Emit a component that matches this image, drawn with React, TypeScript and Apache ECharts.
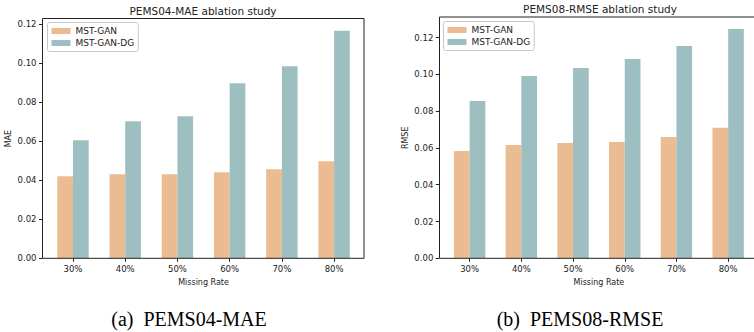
import React, { useEffect, useRef } from 'react';
import * as echarts from 'echarts';

const categories = ['30%', '40%', '50%', '60%', '70%', '80%'];
const seriesNames = ['MST-GAN', 'MST-GAN-DG'];
const pems04Gan = [0.0421, 0.0431, 0.0431, 0.0441, 0.0456, 0.0497];
const pems04Dg = [0.0605, 0.0703, 0.0728, 0.0897, 0.0985, 0.1167];
const pems08Gan = [0.0583, 0.0616, 0.0627, 0.0632, 0.0659, 0.071];
const pems08Dg = [0.0855, 0.0991, 0.1034, 0.1083, 0.1154, 0.1246];
const yTicks = [0, 0.02, 0.04, 0.06, 0.08, 0.1, 0.12];

const COLOR_GAN = '#EBBC91';
const COLOR_DG = '#9EBFC1';
const INK = '#222222';
const FONT = 'DejaVu Sans';

function yAxisDef(grid: number, name: string, max: number, offset: number, nameGap: number) {
  return {
    type: 'value',
    gridIndex: grid,
    min: 0,
    max,
    offset,
    name,
    nameLocation: 'middle',
    nameGap,
    nameTextStyle: { fontSize: 8, color: INK, fontFamily: FONT },
    axisLine: { show: false },
    splitLine: { show: false },
    axisTick: { show: true, length: 3.5, customValues: yTicks, lineStyle: { color: INK, width: 1 } },
    axisLabel: {
      customValues: yTicks,
      formatter: (v: number) => v.toFixed(2),
      fontSize: 8.5,
      color: INK,
      fontFamily: FONT,
      margin: 6,
    },
  };
}

function xAxisDef(grid: number) {
  return {
    type: 'category',
    gridIndex: grid,
    data: categories,
    boundaryGap: true,
    name: 'Missing Rate',
    nameLocation: 'middle',
    nameGap: 19,
    nameTextStyle: { fontSize: 8, color: INK, fontFamily: FONT },
    axisLine: { show: false },
    axisTick: { show: true, alignWithLabel: true, length: 3.5, lineStyle: { color: INK, width: 1 } },
    axisLabel: { fontSize: 8.5, color: INK, fontFamily: FONT, margin: 6 },
  };
}

function legendDef(left: number, top: number) {
  return {
    left,
    top,
    orient: 'vertical',
    data: seriesNames,
    icon: 'rect',
    itemWidth: 19,
    itemHeight: 6,
    itemGap: 3,
    padding: [4, 4, 4, 4],
    borderColor: '#c8c8c8',
    borderWidth: 1,
    borderRadius: 2,
    backgroundColor: '#ffffff',
    textStyle: { fontSize: 9, color: INK, fontFamily: FONT },
    selectedMode: false,
  };
}

function barSeries(name: string, data: number[], color: string, axis: number) {
  return {
    type: 'bar',
    name,
    xAxisIndex: axis,
    yAxisIndex: axis,
    data,
    barWidth: 15.7,
    barGap: '0%',
    itemStyle: { color },
  };
}

export default function App() {
  const ref = useRef<HTMLDivElement>(null);
  useEffect(() => {
    document.body.style.margin = '0';
    if (!ref.current) return;
    const chart = echarts.init(ref.current, null, { renderer: 'svg' });
    chart.setOption({
      animation: false,
      backgroundColor: '#ffffff',
      grid: [
        { left: 46.9, top: 19, width: 313.3, height: 239.3 },
        { left: 443.8, top: 17.3, width: 314.4, height: 241 },
      ],
      xAxis: [xAxisDef(0), xAxisDef(1)],
      yAxis: [yAxisDef(0, 'MAE', 0.1227, 4.4, 30), yAxisDef(1, 'RMSE', 0.131, 4.5, 30)],
      legend: [legendDef(47.5, 22.5), legendDef(443.5, 21.5)],
      series: [
        barSeries('MST-GAN', pems04Gan, COLOR_GAN, 0),
        barSeries('MST-GAN-DG', pems04Dg, COLOR_DG, 0),
        barSeries('MST-GAN', pems08Gan, COLOR_GAN, 1),
        barSeries('MST-GAN-DG', pems08Dg, COLOR_DG, 1),
      ],
      graphic: [
        {
          type: 'rect',
          z: 100,
          shape: { x: 42.5, y: 18.5, width: 321.5, height: 239.8 },
          style: { fill: 'none', stroke: INK, lineWidth: 1 },
          silent: true,
        },
        {
          type: 'rect',
          z: 100,
          shape: { x: 439.5, y: 17, width: 323, height: 241.3 },
          style: { fill: 'none', stroke: INK, lineWidth: 1 },
          silent: true,
        },
        {
          type: 'text',
          x: 203,
          y: 10.5,
          style: { text: 'PEMS04-MAE ablation study', align: 'center', verticalAlign: 'middle', fontSize: 10.5, fontFamily: FONT, fill: INK },
        },
        {
          type: 'text',
          x: 600,
          y: 9,
          style: { text: 'PEMS08-RMSE ablation study', align: 'center', verticalAlign: 'middle', fontSize: 10.5, fontFamily: FONT, fill: INK },
        },
        {
          type: 'text',
          x: 189,
          y: 319,
          style: { text: '(a)\u00a0 PEMS04-MAE', align: 'center', verticalAlign: 'middle', fontSize: 20, fontFamily: 'Liberation Serif', fill: '#000' },
        },
        {
          type: 'text',
          x: 580,
          y: 319,
          style: { text: '(b)\u00a0 PEMS08-RMSE', align: 'center', verticalAlign: 'middle', fontSize: 20, fontFamily: 'Liberation Serif', fill: '#000' },
        },
      ],
    });
    return () => chart.dispose();
  }, []);
  return <div ref={ref} style={{ width: 754, height: 332 }} />;
}
